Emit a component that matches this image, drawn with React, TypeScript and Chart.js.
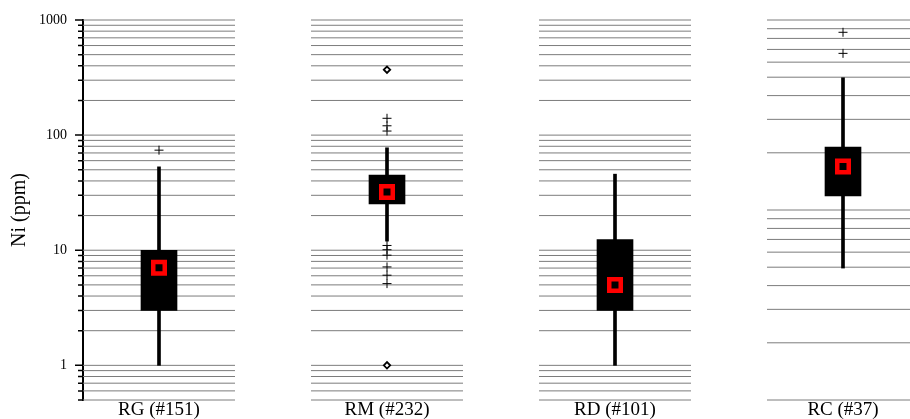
import React, { useEffect, useRef } from 'react';
import { Chart, registerables } from 'chart.js';

Chart.register(...registerables);

// ---- data ----
const categories = ['RG (#151)', 'RM (#232)', 'RD (#101)', 'RC (#37)'];
const positions = [0, 1, 2, 3];
const whiskerLow = [1.0, 12.0, 1.0, 7.0];
const quartile1 = [3.0, 25.3, 3.0, 29.7];
const medians = [7.05, 32.0, 5.0, 53.5];
const quartile3 = [10.0, 45.0, 12.4, 78.6];
const whiskerHigh = [53, 77.6, 45.8, 315];
const outliersRG = [74];
const outliersRM = [140, 120.5, 108.5, 11.0, 10.1, 9.06, 7.16, 6.07, 5.13];
const outliersRC = [782, 513];
const farOutliersRM = [370, 1.0];

// tick / grid values
const yGridValues = [
  0.5, 0.6, 0.7, 0.8, 0.9,
  1, 2, 3, 4, 5, 6, 7, 8, 9,
  10, 20, 30, 40, 50, 60, 70, 80, 90,
  100, 200, 300, 400, 500, 600, 700, 800, 900,
  1000,
];
const yMajorTicks = [1, 10, 100, 1000];
const rcGridValues = [1, 2, 3, 4, 5, 6, 7, 8, 9, 10, 20, 30, 40, 50, 60, 70, 80, 90, 100];

const FONT = "'Liberation Serif', 'Times New Roman', serif";

const panelGridPlugin = {
  id: 'panelGrid',
  beforeDatasetsDraw(chart: any) {
    const { ctx, chartArea, scales } = chart;
    const x = scales.x;
    const y = scales.y;
    const y2 = scales.y2;
    ctx.save();
    ctx.strokeStyle = '#7c7c7c';
    ctx.lineWidth = 1;
    positions.forEach((p, i) => {
      const x0 = Math.max(chartArea.left, x.getPixelForValue(p - 1 / 3));
      const x1 = Math.min(chartArea.right, x.getPixelForValue(p + 1 / 3));
      const scale = i === 3 ? y2 : y;
      const vals = i === 3 ? rcGridValues : yGridValues;
      ctx.beginPath();
      vals.forEach((v) => {
        const py = scale.getPixelForValue(v);
        ctx.moveTo(x0, py);
        ctx.lineTo(x1, py);
      });
      ctx.stroke();
    });
    // y-axis tick marks
    ctx.strokeStyle = '#000';
    ctx.lineWidth = 1.5;
    ctx.beginPath();
    yGridValues.forEach((v) => {
      const py = y.getPixelForValue(v);
      const len = yMajorTicks.includes(v) ? 8 : 5;
      ctx.moveTo(chartArea.left - len, py);
      ctx.lineTo(chartArea.left, py);
    });
    ctx.stroke();
    ctx.restore();
  },
};

export default function App() {
  const ref = useRef<HTMLCanvasElement>(null);

  useEffect(() => {
    const chart = new Chart(ref.current as HTMLCanvasElement, {
      type: 'bar',
      data: {
        datasets: [
          {
            type: 'scatter',
            label: 'median',
            data: positions.map((p, i) => ({ x: p, y: medians[i] })),
            pointStyle: 'rect',
            pointRadius: 8.13,
            backgroundColor: '#000000',
            borderColor: '#ff0000',
            borderWidth: 4.5,
            order: 1,
          } as any,
          {
            type: 'scatter',
            label: 'outliers',
            data: [
              ...outliersRG.map((v) => ({ x: 0, y: v })),
              ...outliersRM.map((v) => ({ x: 1, y: v })),
              ...outliersRC.map((v) => ({ x: 3, y: v })),
            ],
            pointStyle: 'cross',
            pointRadius: 4.5,
            borderColor: '#000000',
            borderWidth: 1,
            order: 2,
          } as any,
          {
            type: 'scatter',
            label: 'far outliers',
            data: farOutliersRM.map((v) => ({ x: 1, y: v })),
            pointStyle: 'rectRot',
            pointRadius: 3.2,
            backgroundColor: '#ffffff',
            borderColor: '#000000',
            borderWidth: 1.8,
            order: 2,
          } as any,
          {
            type: 'bar',
            label: 'box',
            data: positions.map((p, i) => ({ x: p, y: [quartile1[i], quartile3[i]] })),
            backgroundColor: '#000000',
            borderWidth: 0,
            barThickness: 36,
            grouped: false,
            order: 3,
          } as any,
          {
            type: 'bar',
            label: 'whisker',
            data: positions.map((p, i) => ({ x: p, y: [whiskerLow[i], whiskerHigh[i]] })),
            backgroundColor: '#000000',
            borderWidth: 0,
            barThickness: 3,
            grouped: false,
            order: 4,
          } as any,
        ],
      },
      options: {
        responsive: false,
        devicePixelRatio: 1,
        animation: false,
        events: [],
        layout: { autoPadding: false, padding: { top: 20, right: 0, bottom: 0, left: 0 } },
        plugins: {
          legend: { display: false },
          tooltip: { enabled: false },
        },
        scales: {
          x: {
            type: 'linear',
            offset: false,
            min: -1 / 3,
            max: -1 / 3 + 827 / 228,
            grid: { display: false, drawTicks: false },
            border: { display: false },
            afterBuildTicks: (scale: any) => {
              scale.ticks = positions.map((p) => ({ value: p }));
            },
            afterFit: (scale: any) => {
              scale.height = 19;
              scale.paddingLeft = 0;
              scale.paddingRight = 0;
              scale.paddingTop = 0;
              scale.paddingBottom = 0;
            },
            ticks: {
              autoSkip: false,
              maxRotation: 0,
              padding: 1,
              color: '#000',
              font: { family: FONT, size: 19, lineHeight: 1 },
              callback: (v: any) => categories[Math.round(Number(v))] ?? '',
            },
          },
          y: {
            type: 'logarithmic',
            position: 'left',
            min: 0.5,
            max: 1000,
            grid: { display: false, drawTicks: false },
            border: { display: true, color: '#000', width: 2 },
            afterBuildTicks: (scale: any) => {
              scale.ticks = yGridValues.map((v) => ({ value: v, major: yMajorTicks.includes(v) }));
            },
            afterFit: (scale: any) => {
              scale.width = 83;
              scale.paddingLeft = 0;
              scale.paddingRight = 0;
              scale.paddingTop = 0;
              scale.paddingBottom = 0;
            },
            ticks: {
              autoSkip: false,
              padding: 16,
              color: '#000',
              font: { family: FONT, size: 14 },
              callback: (v: any) => (yMajorTicks.includes(Number(v)) ? String(v) : ''),
            },
            title: {
              display: true,
              text: 'Ni (ppm)',
              color: '#000',
              font: { family: FONT, size: 20 },
              padding: { top: 8, bottom: 0 },
            },
          },
          y2: {
            type: 'logarithmic',
            display: false,
            min: 1,
            max: 100,
          },
        },
      } as any,
      plugins: [panelGridPlugin],
    });
    return () => chart.destroy();
  }, []);

  return (
    <div style={{ position: 'absolute', left: 0, top: 0, width: 910, height: 419 }}>
      <canvas ref={ref} width={910} height={419} style={{ display: 'block', width: 910, height: 419 }} />
    </div>
  );
}
